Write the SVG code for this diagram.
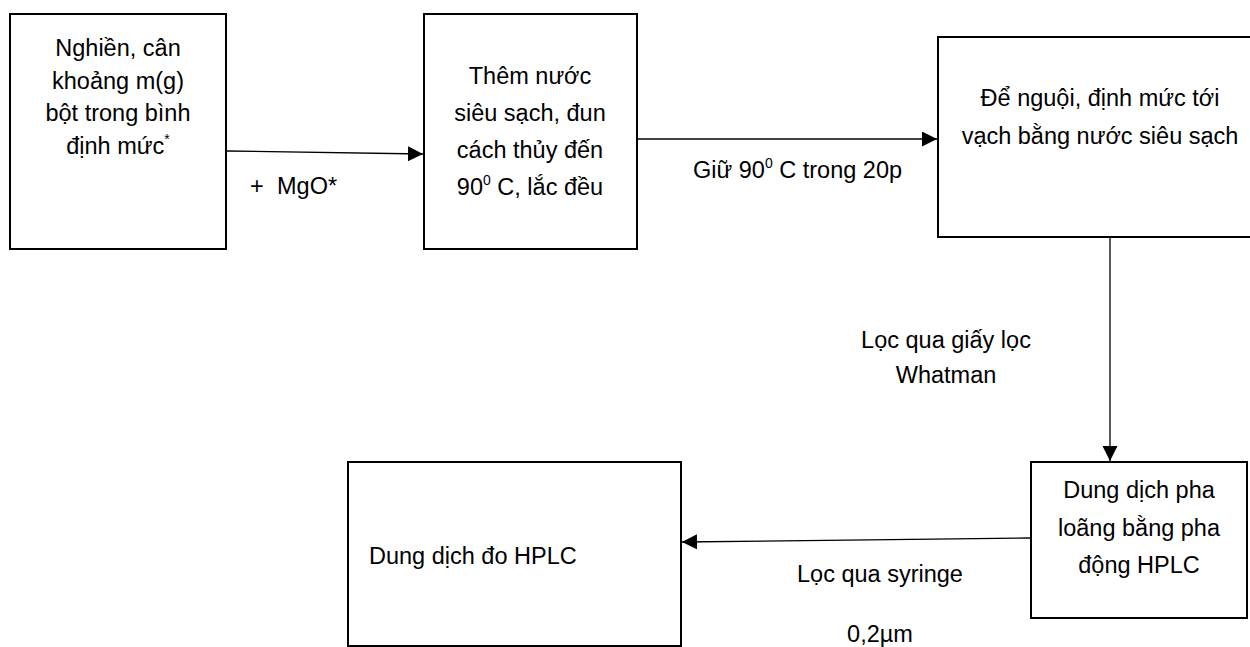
<svg xmlns="http://www.w3.org/2000/svg" width="1250" height="647" viewBox="0 0 1250 647">
<style>
.box{fill:#fff;stroke:#000;stroke-width:2}
.t{font-family:"Liberation Sans","Noto Sans",sans-serif;font-size:23.5px;fill:#000}
.c{text-anchor:middle}
.con{stroke:#000;stroke-width:1.3;fill:none}
.sup{font-size:14px}
</style>
<defs>
<marker id="ah" markerUnits="userSpaceOnUse" markerWidth="16" markerHeight="16" refX="15" refY="7.5" orient="auto">
<path d="M0,0 L15,7.5 L0,15 z" fill="#000"/>
</marker>
</defs>
<rect width="1250" height="647" fill="#fff"/>
<g id="connectors">
<line class="con" x1="227" y1="151" x2="423" y2="154" marker-end="url(#ah)"/>
<line class="con" x1="638" y1="139" x2="937" y2="139" marker-end="url(#ah)"/>
<line class="con" x1="1110" y1="238" x2="1110" y2="461" marker-end="url(#ah)"/>
<line class="con" x1="1030" y1="538" x2="682" y2="542" marker-end="url(#ah)"/>
<text class="t" x="250" y="194">+</text>
<text class="t" x="277" y="194">MgO*</text>
<text class="t" x="693" y="178">Giữ 90<tspan class="sup" dy="-10">0</tspan><tspan dy="10"> C trong 20p</tspan></text>
<text class="t c" x="946" y="348">Lọc qua giấy lọc</text>
<text class="t c" x="946" y="383">Whatman</text>
<text class="t c" x="880" y="582">Lọc qua syringe</text>
<text class="t c" x="880" y="642">0,2µm</text>
</g>
<g id="n1">
<rect class="box" x="10" y="14" width="216" height="235"/>
<text class="t c" x="118" y="56">Nghiền, cân</text>
<text class="t c" x="118" y="89">khoảng m(g)</text>
<text class="t c" x="118" y="121">bột trong bình</text>
<text class="t c" x="118" y="154">định mức<tspan class="sup" dy="-10">*</tspan></text>
</g>
<g id="n2">
<rect class="box" x="424" y="14" width="213" height="235"/>
<text class="t c" x="530" y="84">Thêm nước</text>
<text class="t c" x="530" y="121">siêu sạch, đun</text>
<text class="t c" x="530" y="158">cách thủy đến</text>
<text class="t c" x="530" y="195">90<tspan class="sup" dy="-10">0</tspan><tspan dy="10"> C, lắc đều</tspan></text>
</g>
<g id="n3">
<rect class="box" x="938" y="37" width="330" height="200"/>
<text class="t c" x="1100" y="106">Để nguội, định mức tới</text>
<text class="t c" x="1100" y="144">vạch bằng nước siêu sạch</text>
</g>
<g id="n4">
<rect class="box" x="1031" y="462" width="216" height="156"/>
<text class="t c" x="1139" y="498">Dung dịch pha</text>
<text class="t c" x="1139" y="536">loãng bằng pha</text>
<text class="t c" x="1139" y="573">động HPLC</text>
</g>
<g id="n5">
<rect class="box" x="348" y="462" width="333" height="184"/>
<text class="t" x="369" y="564">Dung dịch đo HPLC</text>
</g>
</svg>
